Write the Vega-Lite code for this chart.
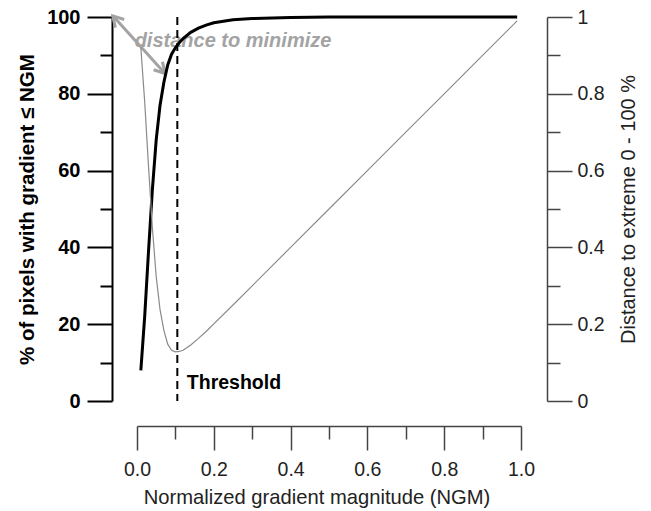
{
  "$schema": "https://vega.github.io/schema/vega-lite/v6.json",
  "width": 384,
  "height": 384,
  "autosize": {"type": "none"},
  "padding": {"left": 137, "top": 17, "right": 130, "bottom": 110},
  "background": "white",
  "config": {
    "view": {"stroke": null},
    "font": "Liberation Sans",
    "axis": {"grid": false, "labelFont": "Liberation Sans", "titleFont": "Liberation Sans", "labelFlush": false, "labelOverlap": false}
  },
  "datasets": {
    "curve": [
      {"x": 0.01, "pct": 8, "dist": 0.920},
      {"x": 0.02, "pct": 22, "dist": 0.780},
      {"x": 0.03, "pct": 39, "dist": 0.611},
      {"x": 0.04, "pct": 55, "dist": 0.452},
      {"x": 0.05, "pct": 68, "dist": 0.324},
      {"x": 0.06, "pct": 77, "dist": 0.238},
      {"x": 0.07, "pct": 83, "dist": 0.184},
      {"x": 0.08, "pct": 87.5, "dist": 0.148},
      {"x": 0.09, "pct": 90.3, "dist": 0.132},
      {"x": 0.10, "pct": 92.0, "dist": 0.128},
      {"x": 0.11, "pct": 93.3, "dist": 0.129},
      {"x": 0.12, "pct": 94.4, "dist": 0.132},
      {"x": 0.14, "pct": 96.0, "dist": 0.146},
      {"x": 0.16, "pct": 97.1, "dist": 0.163},
      {"x": 0.18, "pct": 97.9, "dist": 0.181},
      {"x": 0.20, "pct": 98.5, "dist": 0.201},
      {"x": 0.25, "pct": 99.3, "dist": 0.250},
      {"x": 0.30, "pct": 99.6, "dist": 0.300},
      {"x": 0.40, "pct": 99.9, "dist": 0.400},
      {"x": 0.50, "pct": 100, "dist": 0.500},
      {"x": 0.60, "pct": 100, "dist": 0.600},
      {"x": 0.70, "pct": 100, "dist": 0.700},
      {"x": 0.80, "pct": 100, "dist": 0.800},
      {"x": 0.90, "pct": 100, "dist": 0.900},
      {"x": 0.99, "pct": 100, "dist": 0.990}
    ],
    "threshold": [{"x": 0.105, "y": 3, "label": "Threshold"}],
    "note": [{"x": 0.25, "y": 92.3, "label": "distance to minimize"}],
    "arrow": [{"x1": -0.063, "y1": 100.3, "x2": 0.073, "y2": 85.3}]
  },
  "resolve": {"scale": {"y": "independent"}, "axis": {"x": "independent"}},
  "layer": [
    {
      "resolve": {"axis": {"x": "independent", "y": "independent"}},
      "layer": [
        {
          "data": {"name": "note"},
          "mark": {"type": "text", "font": "Liberation Sans", "fontSize": 20, "fontWeight": "bold", "fontStyle": "italic", "color": "#a3a3a3", "align": "center", "baseline": "alphabetic"},
          "encoding": {
            "x": {"field": "x", "type": "quantitative", "scale": {"domain": [0, 1], "nice": false}, "axis": null},
            "y": {"field": "y", "type": "quantitative", "scale": {"domain": [0, 100], "nice": false}, "axis": null},
            "text": {"field": "label"}
          }
        },
        {
          "data": {"name": "arrow"},
          "mark": {"type": "rule", "color": "#a3a3a3", "strokeWidth": 3},
          "encoding": {
            "x": {"field": "x1", "type": "quantitative", "axis": null},
            "y": {"field": "y1", "type": "quantitative", "axis": null},
            "x2": {"field": "x2"},
            "y2": {"field": "y2"}
          }
        },
        {
          "data": {"name": "arrow"},
          "mark": {"type": "point", "shape": "M-0.5,0.866L0,0L0.5,0.866", "filled": false, "size": 576, "angle": 137.8, "color": "#a3a3a3", "strokeWidth": 3, "opacity": 1},
          "encoding": {
            "x": {"field": "x2", "type": "quantitative", "axis": null},
            "y": {"field": "y2", "type": "quantitative", "axis": null}
          }
        },
        {
          "data": {"name": "arrow"},
          "mark": {"type": "point", "shape": "M-0.5,0.866L0,0L0.5,0.866", "filled": false, "size": 576, "angle": 317.8, "color": "#a3a3a3", "strokeWidth": 3, "opacity": 1},
          "encoding": {
            "x": {"field": "x1", "type": "quantitative", "axis": null},
            "y": {"field": "y1", "type": "quantitative", "axis": null}
          }
        },
        {
          "data": {"name": "threshold"},
          "mark": {"type": "rule", "color": "black", "strokeWidth": 2, "strokeDash": [8, 5]},
          "encoding": {
            "x": {"field": "x", "type": "quantitative", "axis": {"orient": "bottom", "offset": 25, "values": [0.1, 0.3, 0.5, 0.7, 0.9], "tickSize": 13, "tickWidth": 1.5, "tickColor": "#444", "domain": false, "labels": false, "title": null}}
          }
        },
        {
          "data": {"name": "curve"},
          "mark": {"type": "line", "color": "black", "strokeWidth": 3},
          "encoding": {
            "x": {"field": "x", "type": "quantitative", "axis": {"orient": "bottom", "offset": 25, "values": [0, 0.2, 0.4, 0.6, 0.8, 1], "format": ".1f", "tickSize": 24, "tickWidth": 1.5, "tickColor": "#444", "domainColor": "#444", "domainWidth": 1.5, "labelFontSize": 19.5, "labelColor": "#222", "labelPadding": 10, "title": "Normalized gradient magnitude (NGM)", "titleFontSize": 20.2, "titleFontWeight": "normal", "titleColor": "#222", "titlePadding": 9, "titleX": 179.5}},
            "y": {"field": "pct", "type": "quantitative", "axis": {"orient": "left", "offset": 25, "values": [0, 20, 40, 60, 80, 100], "tickSize": 25, "tickWidth": 2, "tickColor": "black", "domainColor": "black", "domainWidth": 2, "labelFontSize": 20, "labelFontWeight": "bold", "labelColor": "black", "labelPadding": 7, "title": "% of pixels with gradient ≤ NGM", "titleFontSize": 20.5, "titleFontWeight": "bold", "titleColor": "black", "titlePadding": 9}}
          }
        },
        {
          "data": {"name": "threshold"},
          "mark": {"type": "text", "font": "Liberation Sans", "fontSize": 19.5, "fontWeight": "bold", "color": "black", "align": "left", "baseline": "alphabetic", "dx": 9.5},
          "encoding": {
            "x": {"field": "x", "type": "quantitative", "axis": null},
            "y": {"field": "y", "type": "quantitative", "axis": {"orient": "left", "offset": 25, "values": [10, 30, 50, 70, 90], "tickSize": 12, "tickWidth": 2, "tickColor": "black", "domain": false, "labels": false, "title": null}},
            "text": {"field": "label"}
          }
        }
      ]
    },
    {
      "data": {"name": "curve"},
      "resolve": {"axis": {"y": "independent"}},
      "layer": [
        {
          "mark": {"type": "line", "color": "#8a8a8a", "strokeWidth": 1.2},
          "encoding": {
            "x": {"field": "x", "type": "quantitative", "axis": null},
            "y": {"field": "dist", "type": "quantitative", "scale": {"domain": [0, 1], "nice": false}, "axis": {"orient": "right", "offset": 26, "values": [0, 0.2, 0.4, 0.6, 0.8, 1], "format": "~g", "tickSize": 25, "tickWidth": 1.5, "tickColor": "#444", "domainColor": "#444", "domainWidth": 1.5, "labelFontSize": 19.5, "labelColor": "#222", "labelPadding": 5, "title": "Distance to extreme 0 - 100 %", "titleFontSize": 20, "titleFontWeight": "normal", "titleColor": "#222", "titleAngle": -90, "titleBaseline": "top", "titlePadding": 14}}
          }
        },
        {
          "mark": {"type": "point", "opacity": 0, "size": 1},
          "encoding": {
            "x": {"field": "x", "type": "quantitative", "axis": null},
            "y": {"field": "dist", "type": "quantitative", "axis": {"orient": "right", "offset": 26, "values": [0.1, 0.3, 0.5, 0.7, 0.9], "tickSize": 13, "tickWidth": 1.5, "tickColor": "#444", "domain": false, "labels": false, "title": null}}
          }
        }
      ]
    }
  ]
}
